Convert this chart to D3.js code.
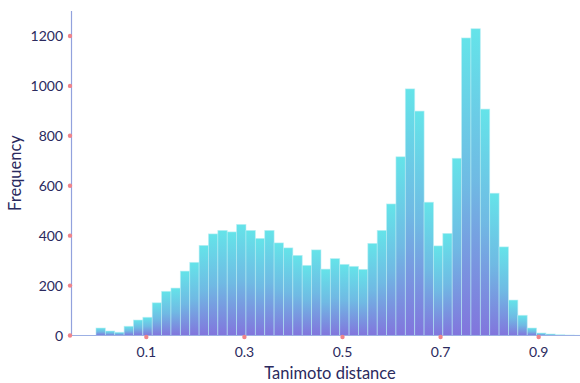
<!DOCTYPE html>
<html><head><meta charset="utf-8">
<script src="https://cdn.jsdelivr.net/npm/d3@7"></script>
<style>html,body{margin:0;padding:0;background:#fff;}svg{display:block;}</style>
</head><body>
<script>
// Histogram counts per bin
const counts = [30,18,13,37,62,73,131,177,190,258,293,361,407,421,415,445,421,389,421,371,351,321,281,343,266,308,285,277,265,369,421,527,716,988,899,534,359,409,710,1192,1229,907,570,355,142,81,30,10,6,3,2,1];
const binStart = -0.00265;
const binWidth = 0.019115;
const xTicks = [0.1,0.3,0.5,0.7,0.9];
const yTicks = [0,200,400,600,800,1000,1200];
const xLabel = "Tanimoto distance";
const yLabel = "Frequency";

const W = 580, H = 383;
const L = 71, R = 580, T = 11, B = 335.5;
const svg = d3.select("body").append("svg").attr("width", W).attr("height", H);
const x = d3.scaleLinear().domain([-0.0536, 0.9843]).range([L, R]);
const y = d3.scaleLinear().domain([0, 1300]).range([B, T]);

const defs = svg.append("defs");
const g1 = defs.append("linearGradient").attr("id","barg").attr("x1",0).attr("y1",0).attr("x2",0).attr("y2",1);
g1.append("stop").attr("offset","0%").attr("stop-color","#5ce2e8");
g1.append("stop").attr("offset","50%").attr("stop-color","#68b6e2");
g1.append("stop").attr("offset","100%").attr("stop-color","#7b6ddb");
const g2 = defs.append("linearGradient").attr("id","topg").attr("x1",0).attr("y1",0).attr("x2",1).attr("y2",0);
g2.append("stop").attr("offset","0%").attr("stop-color","#97a2de");
g2.append("stop").attr("offset","100%").attr("stop-color","#8fd0ea");
defs.append("clipPath").attr("id","clip").append("rect").attr("x",L).attr("y",T).attr("width",R-L).attr("height",B-T+1);

const bins = counts.map((c,i)=>({x0: binStart + i*binWidth, x1: binStart + (i+1)*binWidth, c}));

svg.append("g").attr("clip-path","url(#clip)").selectAll("rect").data(bins).join("rect")
  .attr("x", d=>x(d.x0))
  .attr("width", d=>x(d.x1)-x(d.x0))
  .attr("y", d=>y(d.c))
  .attr("height", d=>y(0)-y(d.c))
  .attr("fill","url(#barg)")
  .attr("fill-opacity",0.95)
  .attr("stroke","#b8eef3")
  .attr("stroke-opacity",0.7)
  .attr("stroke-width",0.8);

// frame lines
svg.append("line").attr("x1",L).attr("x2",R).attr("y1",T).attr("y2",T).attr("stroke","url(#topg)").attr("stroke-width",1.2);
svg.append("line").attr("x1",L+0.5).attr("x2",L+0.5).attr("y1",T).attr("y2",B).attr("stroke","#92a2dd").attr("stroke-width",1.2);
svg.append("line").attr("x1",L).attr("x2",R).attr("y1",B).attr("y2",B).attr("stroke","#9cb0e4").attr("stroke-width",1.2);

const txt = "#2b2a5e";
const font = "Lato, 'Open Sans', sans-serif";

// y ticks
const yg = svg.append("g");
yg.selectAll("circle").data(yTicks).join("circle")
  .attr("cx", L-1).attr("cy", d=>y(d)).attr("r",2.2).attr("fill","#f0848a");
yg.selectAll("text").data(yTicks).join("text")
  .attr("x", 63).attr("y", d=>y(d)).attr("dy","0.36em")
  .attr("text-anchor","end").attr("font-family",font).attr("font-size",14).attr("fill",txt)
  .text(d=>d);

// x ticks
const xg = svg.append("g");
xg.selectAll("circle").data(xTicks).join("circle")
  .attr("cx", d=>x(d)).attr("cy", B+1.5).attr("r",2.2).attr("fill","#f0848a");
xg.selectAll("text").data(xTicks).join("text")
  .attr("x", d=>x(d)).attr("y", 357)
  .attr("text-anchor","middle").attr("font-family",font).attr("font-size",14).attr("fill",txt)
  .text(d=>d3.format(".1f")(d));

svg.append("text").attr("x", 330).attr("y", 379).attr("text-anchor","middle")
  .attr("font-family",font).attr("font-size",16.5).attr("fill",txt).text(xLabel);
svg.append("text").attr("transform","translate(21,173) rotate(-90)").attr("text-anchor","middle")
  .attr("font-family",font).attr("font-size",16.5).attr("fill",txt).text(yLabel);
</script>
</body></html>
